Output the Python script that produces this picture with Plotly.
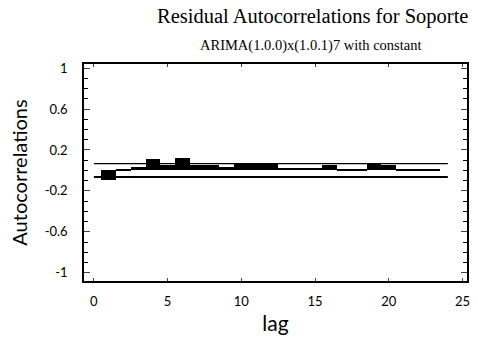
import plotly.graph_objects as go

lags = list(range(1, 24))
acf = [-0.09, 0.005, 0.03, 0.11, 0.05, 0.12, 0.05, 0.05, 0.03, 0.06,
       0.06, 0.06, 0.025, 0.025, 0.02, 0.055, 0.01, 0.01, 0.06, 0.05,
       0.01, 0.01, 0.015]
limit_lags = [0, 24]
upper_limit = [0.066, 0.066]
lower_limit = [-0.064, -0.064]
y_tickvals = [1, 0.6, 0.2, -0.2, -0.6, -1]
y_ticktext = ["1", "0.6", "0.2", "-0.2", "-0.6", "-1"]
x_tickvals = [0, 5, 10, 15, 20, 25]

fig = go.Figure()
fig.add_trace(go.Bar(x=lags, y=acf, width=1.0, marker=dict(color="black", line=dict(width=0)),
                     showlegend=False))
fig.add_trace(go.Scatter(x=limit_lags, y=upper_limit, mode="lines",
                         line=dict(color="black", width=1.3), showlegend=False))
fig.add_trace(go.Scatter(x=limit_lags, y=lower_limit, mode="lines",
                         line=dict(color="black", width=2), showlegend=False))

axis_font = dict(family="Lato", size=13, color="black")
fig.update_layout(
    width=478, height=342,
    margin=dict(l=84, r=8, t=64, b=61),
    paper_bgcolor="white", plot_bgcolor="white",
    bargap=0,
    xaxis=dict(range=[-0.67, 25.3], tickvals=x_tickvals, ticks="inside", ticklen=3,
               showline=True, linecolor="black", linewidth=1.5, mirror="ticks",
               showgrid=False, zeroline=False, tickfont=axis_font, ticklabelstandoff=8,
               title=dict(text="lag", font=dict(family="Lato", size=21, color="black"), standoff=8)),
    yaxis=dict(range=[-1.08, 1.04], tickvals=y_tickvals, ticktext=y_ticktext, ticks="inside",
               ticklen=6, showline=True, linecolor="black", linewidth=1.5, mirror="ticks",
               minor=dict(dtick=0.1, tick0=0, ticks="inside", ticklen=4, tickcolor="black"),
               showgrid=False, zeroline=False, tickfont=axis_font, ticklabelstandoff=12,
               title=dict(text="Autocorrelations", font=dict(family="Lato", size=20, color="black"),
                          standoff=12)),
    annotations=[
        dict(text="Residual Autocorrelations for Soporte", xref="paper", yref="paper",
             x=(314 - 84) / 386, y=1 + (64 - 17) / 217, xanchor="center", yanchor="middle",
             showarrow=False, font=dict(family="Liberation Serif", size=20.5, color="black")),
        dict(text="ARIMA(1.0.0)x(1.0.1)7 with constant", xref="paper", yref="paper",
             x=(313 - 84) / 386, y=1 + (64 - 45) / 217, xanchor="center", yanchor="middle",
             showarrow=False, font=dict(family="Liberation Serif", size=14.5, color="black")),
    ],
)

fig.write_html("out.html")
